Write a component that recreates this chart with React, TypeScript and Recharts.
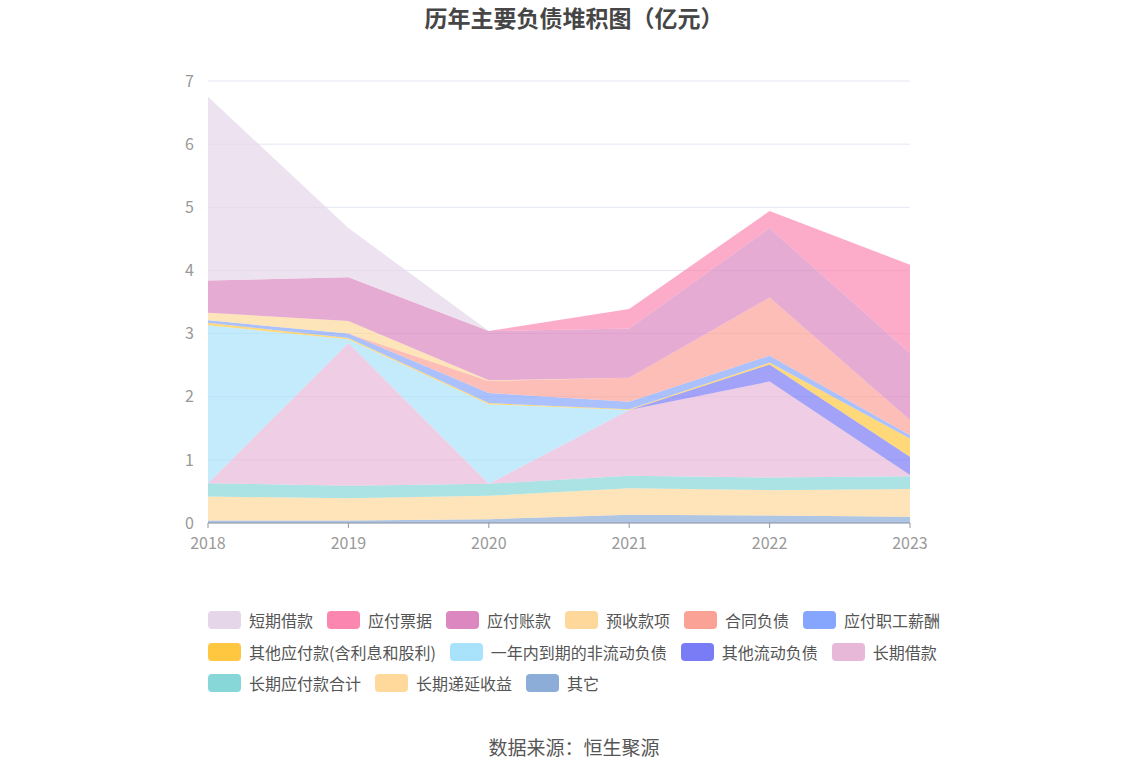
import React from "react";
import { AreaChart, Area, XAxis, YAxis, CartesianGrid } from "recharts";

const years = ["2018", "2019", "2020", "2021", "2022", "2023"];
const yTicks = [0, 1, 2, 3, 4, 5, 6, 7];

const 短期借款 = [2.91, 0.78, 0, 0, 0, 0];
const 应付票据 = [0, 0, 0, 0.31, 0.27, 1.40];
const 应付账款 = [0.51, 0.69, 0.78, 0.78, 1.10, 1.06];
const 预收款项 = [0.12, 0.20, 0.01, 0, 0, 0];
const 合同负债 = [0, 0, 0.19, 0.38, 0.92, 0.24];
const 应付职工薪酬 = [0.04, 0.07, 0.16, 0.12, 0.11, 0.05];
const 其他应付款 = [0.04, 0.02, 0.02, 0.01, 0.03, 0.29];
const 一年内到期的非流动负债 = [2.50, 0.06, 1.26, 0, 0, 0];
const 其他流动负债 = [0, 0, 0, 0, 0.27, 0.29];
const 长期借款 = [0, 2.26, 0, 1.04, 1.52, 0.02];
const 长期应付款合计 = [0.21, 0.20, 0.19, 0.20, 0.20, 0.20];
const 长期递延收益 = [0.38, 0.35, 0.37, 0.42, 0.40, 0.44];
const 其它 = [0.04, 0.04, 0.06, 0.13, 0.12, 0.10];

const series = [
  { name: "短期借款", values: 短期借款, color: "#e5d6ea" },
  { name: "应付票据", values: 应付票据, color: "#fb87b0" },
  { name: "应付账款", values: 应付账款, color: "#dc87c0" },
  { name: "预收款项", values: 预收款项, color: "#fed89b" },
  { name: "合同负债", values: 合同负债, color: "#fba297" },
  { name: "应付职工薪酬", values: 应付职工薪酬, color: "#86a6fd" },
  { name: "其他应付款(含利息和股利)", values: 其他应付款, color: "#ffc740" },
  { name: "一年内到期的非流动负债", values: 一年内到期的非流动负债, color: "#a9e2fb" },
  { name: "其他流动负债", values: 其他流动负债, color: "#7a7cf5" },
  { name: "长期借款", values: 长期借款, color: "#e8b8d9" },
  { name: "长期应付款合计", values: 长期应付款合计, color: "#87d7d8" },
  { name: "长期递延收益", values: 长期递延收益, color: "#ffd89b" },
  { name: "其它", values: 其它, color: "#8dadd9" },
];

const data = years.map((y, i) => {
  const row: Record<string, number | string> = { year: y };
  series.forEach((s) => {
    row[s.name] = s.values[i];
  });
  return row;
});

const legendRows = [
  series.slice(0, 6),
  series.slice(6, 10),
  series.slice(10, 13),
];

const FONT = "'Noto Sans CJK SC', 'Noto Sans', sans-serif";

export default function App() {
  const stackOrder = [...series].reverse();
  return (
    <div
      style={{
        position: "absolute",
        left: 0,
        top: 0,
        width: 1148,
        height: 776,
        background: "#fff",
        fontFamily: FONT,
      }}
    >
      <div
        style={{
          position: "absolute",
          top: 0,
          left: 0,
          width: 1148,
          textAlign: "center",
          fontSize: 23,
          fontWeight: "bold",
          color: "#464646",
          lineHeight: "34px",
        }}
      >
        历年主要负债堆积图（亿元）
      </div>
      <AreaChart
        width={1148}
        height={776}
        data={data}
        margin={{ top: 81, right: 238, bottom: 223, left: 158 }}
        style={{ fontFamily: FONT }}
      >
        <CartesianGrid vertical={false} stroke="#e3e7f2" strokeWidth={1} />
        <XAxis
          dataKey="year"
          height={30}
          tick={{ fill: "#999", fontSize: 16 }}
          tickLine={{ stroke: "#8e95a3" }}
          axisLine={{ stroke: "#8e95a3" }}
          tickSize={5}
          tickMargin={10}
          interval={0}
        />
        <YAxis
          width={50}
          domain={[0, 7]}
          ticks={yTicks}
          tick={{ fill: "#999", fontSize: 16 }}
          axisLine={false}
          tickLine={false}
          tickMargin={8}
          interval={0}
        />
        {stackOrder.map((s) => (
          <Area
            key={s.name}
            type="linear"
            dataKey={s.name}
            stackId="1"
            stroke="none"
            fill={s.color}
            fillOpacity={0.7}
            dot={false}
            activeDot={false}
            isAnimationActive={false}
          />
        ))}
      </AreaChart>
      {legendRows.map((row, ri) => (
        <div
          key={ri}
          style={{
            position: "absolute",
            left: 208,
            top: 607 + ri * 31.5,
            display: "flex",
            alignItems: "center",
            height: 26,
          }}
        >
          {row.map((s) => (
            <div
              key={s.name}
              style={{ display: "flex", alignItems: "center", marginRight: 14 }}
            >
              <div
                style={{
                  width: 33,
                  height: 18,
                  borderRadius: 4,
                  background: s.color,
                  marginRight: 8,
                }}
              />
              <span style={{ fontSize: 16, color: "#555", whiteSpace: "nowrap" }}>
                {s.name}
              </span>
            </div>
          ))}
        </div>
      ))}
      <div
        style={{
          position: "absolute",
          top: 733,
          left: 0,
          width: 1148,
          textAlign: "center",
          fontSize: 19,
          color: "#555",
          lineHeight: "28px",
        }}
      >
        数据来源：恒生聚源
      </div>
    </div>
  );
}
